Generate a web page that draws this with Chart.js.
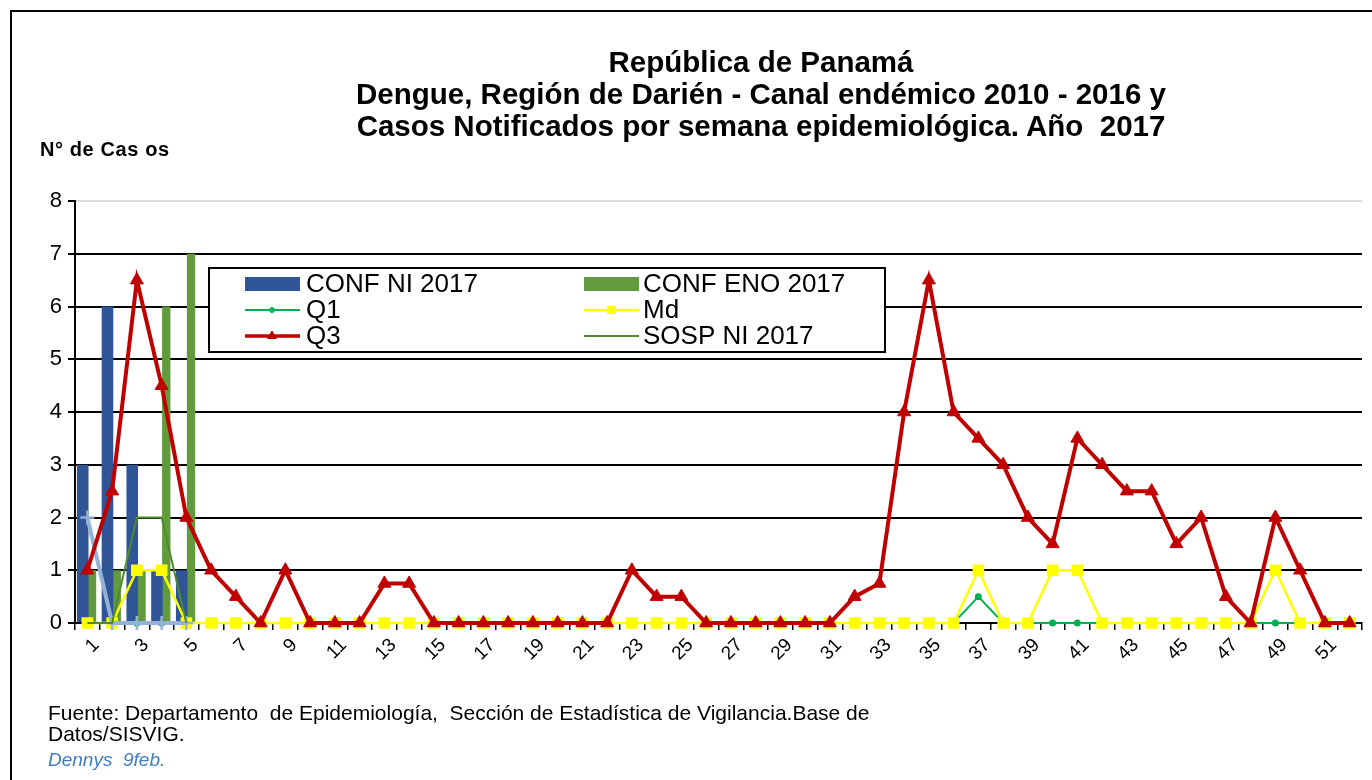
<!DOCTYPE html>
<html><head><meta charset="utf-8">
<script src="https://cdn.jsdelivr.net/npm/chart.js@4.4.0/dist/chart.umd.min.js"></script>
<style>
html,body{margin:0;padding:0;background:#fff;}
#wrap{position:relative;width:1372px;height:780px;overflow:hidden;font-family:"Liberation Sans",Arial,sans-serif;color:#000;}
#frame{position:absolute;left:10px;top:10px;width:1400px;height:800px;border:2px solid #000;box-sizing:border-box;}
#c{position:absolute;left:0;top:0;}
#title{position:absolute;left:211px;top:46px;width:1100px;text-align:center;font-weight:bold;font-size:29.5px;line-height:32px;white-space:pre;}
#ylab{position:absolute;left:40px;top:138px;font-weight:bold;font-size:20px;letter-spacing:0.6px;white-space:pre;}
#foot{position:absolute;left:48px;top:702px;font-size:21px;line-height:21px;white-space:pre;}
#sig{position:absolute;left:48px;top:749px;font-size:19px;font-style:italic;color:#3F7CC0;white-space:pre;}
</style></head>
<body>
<div id="wrap">
<div id="frame"></div>
<canvas id="c" width="1372" height="780"></canvas>
<div id="title">República de Panamá
Dengue, Región de Darién - Canal endémico 2010 - 2016 y
Casos Notificados por semana epidemiológica. Año  2017</div>
<div id="ylab">N° de Cas os</div>
<div id="foot">Fuente: Departamento  de Epidemiología,  Sección de Estadística de Vigilancia.Base de
Datos/SISVIG.</div>
<div id="sig">Dennys  9feb.</div>
</div>
<script>
const weeks = ['1','2','3','4','5','6','7','8','9','10','11','12','13','14','15','16','17','18','19','20','21','22','23','24','25','26','27','28','29','30','31','32','33','34','35','36','37','38','39','40','41','42','43','44','45','46','47','48','49','50','51','52'];
const confNI  = [3,6,3,1,1];
const confENO = [1,1,1,6,7];
const q1 = [0,0,0,0,0,0,0,0,0,0,0,0,0,0,0,0,0,0,0,0,0,0,0,0,0,0,0,0,0,0,0,0,0,0,0,0,0.5,0,0,0,0,0,0,0,0,0,0,0,0,0,0,0];
const md = [0,0,1,1,0,0,0,0,0,0,0,0,0,0,0,0,0,0,0,0,0,0,0,0,0,0,0,0,0,0,0,0,0,0,0,0,1,0,0,1,1,0,0,0,0,0,0,0,1,0,0,0];
const q3 = [1,2.5,6.5,4.5,2,1,0.5,0,1,0,0,0,0.75,0.75,0,0,0,0,0,0,0,0,1,0.5,0.5,0,0,0,0,0,0,0.5,0.75,4,6.5,4,3.5,3,2,1.5,3.5,3,2.5,2.5,1.5,2,0.5,0,2,1,0,0];
const sospNI = [0,0,2,2,0];
const sospENO = [2,0,0,0,0];
const yTicks = [0,1,2,3,4,5,6,7,8];

const legendPlugin = {
  id:'boxLegend',
  afterDatasetsDraw(chart){
    const ctx = chart.ctx;
    const ds = chart.data.datasets.filter(d=>d.showInLegend);
    const x0=209,y0=268,w=676,h=84;
    ctx.save();
    ctx.fillStyle='#fff';ctx.fillRect(x0,y0,w,h);
    ctx.lineWidth=2;ctx.strokeStyle='#000';ctx.strokeRect(x0,y0,w,h);
    ctx.font='26px "Liberation Sans", Arial, sans-serif';
    ctx.textBaseline='middle';
    ds.forEach((d,i)=>{
      const col=i%2,row=Math.floor(i/2);
      const sx = col===0?245:584, tx = col===0?306:643;
      const cy = 284 + row*26;
      if(d.type==='bar'){
        ctx.fillStyle=d.backgroundColor;ctx.fillRect(sx,cy-7,55,14);
      } else {
        ctx.strokeStyle=d.borderColor;ctx.lineWidth=Math.min(d.borderWidth,3.5);
        ctx.beginPath();ctx.moveTo(sx,cy);ctx.lineTo(sx+55,cy);ctx.stroke();
        if(d.pointRadius>0){
          ctx.fillStyle=d.pointBackgroundColor;ctx.strokeStyle=d.pointBorderColor;ctx.lineWidth=1;
          Chart.helpers.drawPoint(ctx,{pointStyle:d.pointStyle,radius:Math.min(d.pointRadius,5),borderWidth:1},sx+27,cy);
        }
      }
      ctx.fillStyle='#000';
      ctx.fillText(d.label,tx,cy+1);
    });
    ctx.restore();
  }
};

new Chart(document.getElementById('c'),{
  data:{
    labels:weeks,
    datasets:[
      {type:'bar',label:'CONF NI 2017',data:confNI,backgroundColor:'#2F5597',barPercentage:1.25,categoryPercentage:0.75,order:9,showInLegend:true},
      {type:'bar',label:'CONF ENO 2017',data:confENO,backgroundColor:'#629B3E',barPercentage:0.9,categoryPercentage:0.75,order:10,showInLegend:true},
      {type:'line',label:'Q1',data:q1,borderColor:'#00B050',borderWidth:2,pointStyle:'circle',pointRadius:2.5,pointBackgroundColor:'#00B050',pointBorderColor:'#00B050',order:6,clip:false,showInLegend:true},
      {type:'line',label:'Md',data:md,borderColor:'#FFFF00',borderWidth:2.5,pointStyle:'rect',pointRadius:6.5,pointBackgroundColor:'#FFFF00',pointBorderColor:'#FFFF00',order:5,clip:false,showInLegend:true},
      {type:'line',label:'Q3',data:q3,borderColor:'#C00000',borderWidth:4,pointStyle:'triangle',pointRadius:7.5,pointBackgroundColor:'#C00000',pointBorderColor:'#C00000',pointBorderWidth:1,order:1,clip:false,showInLegend:true},
      {type:'line',label:'SOSP NI 2017',data:sospNI,borderColor:'#4F8A2E',borderWidth:2,pointRadius:0,order:3,clip:false,showInLegend:true},
      {type:'line',label:'SOSP ENO 2017',data:sospENO,borderColor:'#95B3D7',borderWidth:4,pointStyle:'cross',pointRadius:7,pointBorderWidth:2.5,pointBorderColor:'#95B3D7',order:4,clip:false,showInLegend:false}
    ]
  },
  options:{
    responsive:false,animation:false,
    layout:{padding:{top:201,right:10,bottom:97,left:0}},
    plugins:{legend:{display:false},tooltip:{enabled:false}},
    scales:{
      x:{
        offset:true,
        afterFit(s){s.height=60;},
        grid:{offset:true,drawOnChartArea:false,tickLength:7,color:'#000',lineWidth:1.5},
        border:{color:'#000',width:2},
        ticks:{autoSkip:false,maxRotation:45,minRotation:45,labelOffset:9,padding:4,color:'#000',font:{family:'"Liberation Sans", Arial, sans-serif',size:19},
          callback(v,i){return i%2===0?weeks[i]:'';}}
      },
      y:{
        min:0,max:8,
        afterFit(s){s.width=75;},
        afterBuildTicks(s){s.ticks=yTicks.map(v=>({value:v}));},
        grid:{color(c){return c.tick.value===8?'#dcdcdc':(c.tick.value===0?'rgba(0,0,0,0)':'#000');},lineWidth:2,tickLength:7,tickColor:'#000'},
        border:{color:'#000',width:2},
        ticks:{color:'#000',padding:6,font:{family:'"Liberation Sans", Arial, sans-serif',size:22}}
      }
    }
  },
  plugins:[legendPlugin]
});
</script>
</body></html>
